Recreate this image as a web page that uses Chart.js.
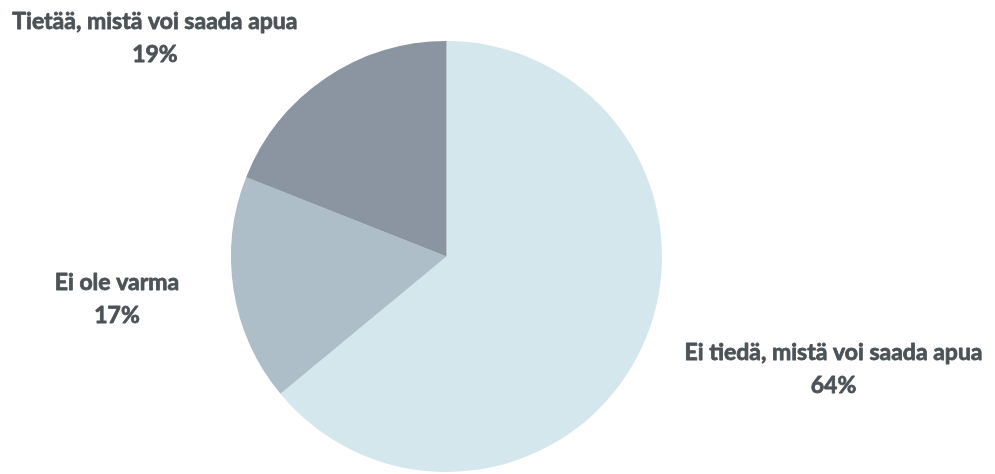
<!DOCTYPE html>
<html>
<head>
<meta charset="utf-8">
<script src="https://cdn.jsdelivr.net/npm/chart.js@4"></script>
<style>
  html, body { margin: 0; padding: 0; background: #ffffff; }
  #wrap { width: 995px; height: 474px; position: relative; }
</style>
</head>
<body>
<div id="wrap"><canvas id="c" width="995" height="474"></canvas></div>
<script>
const categories = ["Ei tiedä, mistä voi saada apua", "Ei ole varma", "Tietää, mistä voi saada apua"];
const values = [64, 17, 19];
const valueLabels = ["64%", "17%", "19%"];
const sliceColors = ["#d3e7ed", "#adbec8", "#8a95a1"];
// label anchor offsets relative to pie centre, in units of the outer radius
const labelOffsets = [[1.796, 0.445], [-1.529, 0.121], [-1.353, -1.09]];

const labelPlugin = {
  id: 'outsideLabels',
  afterDatasetsDraw(chart) {
    const ctx = chart.ctx;
    const meta = chart.getDatasetMeta(0);
    ctx.save();
    ctx.font = 'bold 23px Lato';
    ctx.fillStyle = '#4b5357';
    ctx.strokeStyle = '#4b5357';
    ctx.lineWidth = 0.8;
    ctx.lineJoin = 'round';
    ctx.textAlign = 'center';
    ctx.textBaseline = 'middle';
    meta.data.forEach((arc, i) => {
      const r = arc.outerRadius;
      const x = arc.x + labelOffsets[i][0] * r;
      const y = arc.y + labelOffsets[i][1] * r;
      ctx.fillText(categories[i], x, y);
      ctx.strokeText(categories[i], x, y);
      ctx.fillText(valueLabels[i], x, y + 33);
      ctx.strokeText(valueLabels[i], x, y + 33);
    });
    ctx.restore();
  }
};

new Chart(document.getElementById('c'), {
  type: 'pie',
  data: {
    labels: categories,
    datasets: [{
      data: values,
      backgroundColor: sliceColors,
      borderWidth: 0
    }]
  },
  options: {
    responsive: false,
    animation: false,
    events: [],
    layout: { padding: { left: 0, right: 102, top: 41, bottom: 2 } },
    plugins: { legend: { display: false }, tooltip: { enabled: false } }
  },
  plugins: [labelPlugin]
});
</script>
</body>
</html>
